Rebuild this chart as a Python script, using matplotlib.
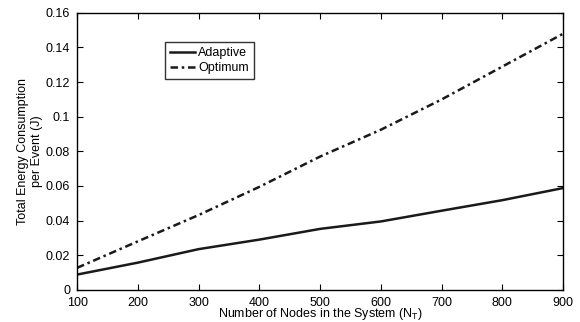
import numpy as np
import matplotlib
matplotlib.use('Agg')
import matplotlib.pyplot as plt

plt.rcParams['font.family'] = ['Liberation Sans', 'DejaVu Sans']

nodes = [100, 200, 300, 400, 500, 600, 700, 800, 900]
adaptive = [0.0088, 0.0157, 0.0235, 0.0290, 0.0352, 0.0395, 0.0457, 0.0518, 0.0588]
optimum = [0.0127, 0.0280, 0.0432, 0.0595, 0.0770, 0.0925, 0.1100, 0.1290, 0.1480]

fig = plt.figure(figsize=(5.8, 3.22), dpi=100)
ax = fig.add_axes([0.133, 0.1, 0.838, 0.86])

ax.plot(nodes, adaptive, color='#1a1a1a', lw=1.8, label='Adaptive')
ax.plot(nodes, optimum, color='#1a1a1a', lw=1.8, linestyle=(0, (3, 1.5, 1, 1.5)), label='Optimum')

ax.set_xlim(100, 900)
ax.set_ylim(0, 0.16)
ax.set_xticks(nodes)
ax.set_yticks([0, 0.02, 0.04, 0.06, 0.08, 0.1, 0.12, 0.14, 0.16])
ax.set_yticklabels(['0', '0.02', '0.04', '0.06', '0.08', '0.1', '0.12', '0.14', '0.16'])
ax.tick_params(direction='in', top=True, right=True, labelsize=9, length=4, pad=5)
for s in ax.spines.values():
    s.set_linewidth(1.0)

ax.set_xlabel('Number of Nodes in the System (N$_\\mathregular{T}$)', fontsize=9, labelpad=-2)
ax.set_ylabel('Total Energy Consumption\nper Event (J)', fontsize=9, labelpad=2)

leg = ax.legend(loc='upper left', bbox_to_anchor=(0.18, 0.895), fontsize=9, frameon=True,
                fancybox=False, edgecolor='black', handlelength=2.0, handletextpad=0.3,
                borderpad=0.4, labelspacing=0.25, borderaxespad=0)
leg.get_frame().set_linewidth(1.0)

fig.savefig('out.png', dpi=100)
